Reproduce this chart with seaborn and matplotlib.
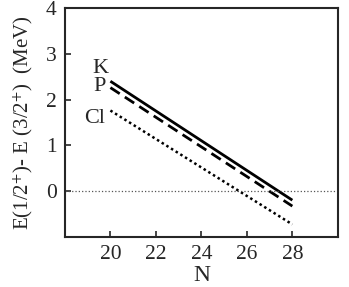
import numpy as np
import pandas as pd
import matplotlib
matplotlib.use('Agg')
import matplotlib.pyplot as plt
import seaborn as sns

# datos
N = [20, 28]
K_vals = [2.40, -0.20]
P_vals = [2.26, -0.33]
Cl_vals = [1.76, -0.73]
etiquetas = ['K', 'P', 'Cl']

df = pd.DataFrame({
    'N': N * 3,
    'E': K_vals + P_vals + Cl_vals,
    'nucleo': ['K'] * 2 + ['P'] * 2 + ['Cl'] * 2,
})

sns.set_style('ticks')
plt.rcParams['font.family'] = ['Liberation Serif', 'DejaVu Serif']
plt.rcParams['mathtext.fontset'] = 'stix'

fig, ax = plt.subplots(figsize=(3.49, 2.87), dpi=100)

estilos = {'K': (1, 0), 'P': (4, 2.2), 'Cl': (1, 1.2)}
sns.lineplot(data=df, x='N', y='E', hue='nucleo', style='nucleo',
             palette={'K': 'black', 'P': 'black', 'Cl': 'black'},
             dashes=estilos, linewidth=2.0, legend=False, ax=ax)
# Cl punteado más fino
ax.lines[2].set_linewidth(1.8)

ax.axhline(0, color='#555555', linestyle=':', linewidth=0.9)

# etiquetas de las curvas
ax.text(19.9, 2.68, 'K', fontsize=16, ha='right', va='center')
ax.text(19.8, 2.28, 'P', fontsize=16, ha='right', va='center')
ax.text(19.75, 1.58, 'Cl', fontsize=16, ha='right', va='center')

ax.set_xlim(18, 30)
ax.set_ylim(-1, 4)
ax.set_xticks([20, 22, 24, 26, 28])
ax.set_yticks([0, 1, 2, 3, 4])
ax.tick_params(direction='in', length=4, width=1.2, labelsize=15.5, pad=6)
for s in ax.spines.values():
    s.set_linewidth(1.5)

ax.set_xlabel('N', fontsize=17, labelpad=1)
ax.set_ylabel(r'E(1/2$^{+}$)- E (3/2$^{+}$)  (MeV)', fontsize=15, labelpad=8)

fig.subplots_adjust(left=0.186, right=0.968, top=0.972, bottom=0.175)
fig.savefig('out.png', dpi=100)
